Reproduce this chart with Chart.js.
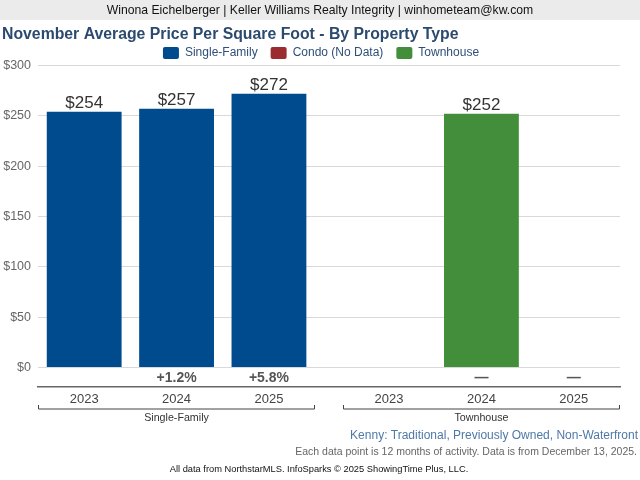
<!DOCTYPE html>
<html>
  <head>
    <script src="https://cdn.jsdelivr.net/npm/chart.js"></script>
    <style>
      html, body { margin: 0; padding: 0; background: #fff; }
      #wrap { width: 640px; height: 480px; }
    </style>
  </head>
  <body>
    <div id="wrap"><canvas id="ppsfChart" width="640" height="480"></canvas></div>

    <script>
      // chart data
      const groups = ['Single-Family', 'Townhouse'];
      const years = ['2023', '2024', '2025'];
      const singleFamily = [254, 257, 272];
      const townhouse = [null, 252, null];
      const condo = [];  // no data for this area
      const singleFamilyChange = ['', '+1.2%', '+5.8%'];
      const townhouseChange = ['', '—', '—'];
      const yTicks = [0, 50, 100, 150, 200, 250, 300];

      const headerText = 'Winona Eichelberger | Keller Williams Realty Integrity | winhometeam@kw.com';
      const titleText = 'November Average Price Per Square Foot - By Property Type';
      const areaText = 'Kenny: Traditional, Previously Owned, Non-Waterfront';
      const noteText = 'Each data point is 12 months of activity. Data is from December 13, 2025.';
      const sourceText = 'All data from NorthstarMLS. InfoSparks © 2025 ShowingTime Plus, LLC.';

      const FONT = 'Arial, "Liberation Sans", sans-serif';
      const GROUP_GAP = 0.3;   // extra space between groups, in slots

      // slot position of year i within group g
      function slotX(g, i) { return g * (years.length + GROUP_GAP) + i; }

      function toPoints(values, g) {
        return values
          .map((v, i) => (v == null ? null : { x: slotX(g, i), y: v }))
          .filter(p => p !== null);
      }

      const tickPositions = [];
      groups.forEach((name, g) => years.forEach((y, i) => tickPositions.push(slotX(g, i))));
      const changes = [singleFamilyChange, townhouseChange];

      const decorations = {
        id: 'decorations',
        beforeLayout(chart) {
          // tighten the gap under the legend
          const lg = chart.legend;
          if (lg && !lg._patched) {
            const fit = lg.fit;
            lg.fit = function () { fit.call(this); this.height -= 3.5; };
            lg._patched = true;
          }
        },
        afterLayout(chart) {
          // legend sits a little right of centre in the original
          chart.legend.left += 10;
          chart.legend.right += 10;
        },
        beforeDraw(chart) {
          const ctx = chart.ctx;
          ctx.save();
          ctx.fillStyle = '#ebebeb';
          ctx.fillRect(0, 0, chart.width, 20);
          ctx.fillStyle = '#111';
          ctx.font = '12.2px ' + FONT;
          ctx.textAlign = 'center';
          ctx.textBaseline = 'middle';
          ctx.fillText(headerText, 320, 10.5);

          ctx.fillStyle = '#2c4a6f';
          ctx.font = 'bold 15.8px ' + FONT;
          ctx.textAlign = 'left';
          ctx.fillText(titleText, 2, 34.5);
          ctx.restore();
        },
        afterDatasetsDraw(chart) {
          const ctx = chart.ctx;
          const xs = chart.scales.x;
          const ys = chart.scales.y;
          const area = chart.chartArea;
          ctx.save();

          // value labels above bars
          ctx.font = '17px ' + FONT;
          ctx.fillStyle = '#333';
          ctx.textAlign = 'center';
          ctx.textBaseline = 'alphabetic';
          chart.data.datasets.forEach((ds, di) => {
            chart.getDatasetMeta(di).data.forEach((bar, j) => {
              ctx.fillText('$' + ds.data[j].y, bar.x, bar.y - 4);
            });
          });

          // year-over-year change row
          const rowY = (ys.getPixelForValue(0) + area.bottom) / 2 + 1.5;
          ctx.font = 'bold 14px ' + FONT;
          ctx.fillStyle = '#555';
          ctx.textBaseline = 'middle';
          groups.forEach((name, g) => {
            changes[g].forEach((txt, i) => {
              if (txt) ctx.fillText(txt, xs.getPixelForValue(slotX(g, i)), rowY);
            });
          });

          // group brackets
          const by = area.bottom + 22.5;
          ctx.strokeStyle = '#444';
          ctx.lineWidth = 1;
          ctx.font = '10.7px ' + FONT;
          ctx.fillStyle = '#333';
          groups.forEach((name, g) => {
            const x0 = Math.round(xs.getPixelForValue(slotX(g, 0) - 0.5)) + 0.5;
            const x1 = Math.round(xs.getPixelForValue(slotX(g, years.length - 1) + 0.5)) - 0.5;
            ctx.beginPath();
            ctx.moveTo(x0, by - 4);
            ctx.lineTo(x0, by);
            ctx.lineTo(x1, by);
            ctx.lineTo(x1, by - 4);
            ctx.stroke();
            ctx.fillText(name, (x0 + x1) / 2, by + 9);
          });

          // footer notes
          ctx.textAlign = 'right';
          ctx.font = '12px ' + FONT;
          ctx.fillStyle = '#4e79a7';
          ctx.fillText(areaText, 638, 436);
          ctx.font = '10.5px ' + FONT;
          ctx.fillStyle = '#666';
          ctx.fillText(noteText, 637, 452);
          ctx.textAlign = 'center';
          ctx.font = '9.3px ' + FONT;
          ctx.fillStyle = '#111';
          ctx.fillText(sourceText, 319, 469);
          ctx.restore();
        }
      };

      new Chart(document.getElementById('ppsfChart'), {
        type: 'bar',
        data: {
          datasets: [
            { label: 'Single-Family', data: toPoints(singleFamily, 0), backgroundColor: '#004b8d' },
            { label: 'Condo (No Data)', data: condo, backgroundColor: '#9b2b2f' },
            { label: 'Townhouse', data: toPoints(townhouse, 1), backgroundColor: '#438e3a' }
          ]
        },
        options: {
          responsive: false,
          animation: false,
          devicePixelRatio: 1,
          grouped: false,
          barPercentage: 0.81,
          categoryPercentage: 1,
          layout: { padding: { top: 34, left: 2, right: 20, bottom: 63.5 } },
          plugins: {
            title: { display: false },
            tooltip: { enabled: false },
            legend: {
              position: 'top',
              labels: {
                boxWidth: 16,
                boxHeight: 12,
                padding: 13,
                color: '#2f4f7a',
                useBorderRadius: true,
                borderRadius: 2,
                font: { family: FONT, size: 12 }
              }
            }
          },
          scales: {
            x: {
              type: 'linear',
              offset: false,
              min: -0.5,
              max: slotX(groups.length - 1, years.length - 1) + 0.5,
              grid: { display: false, drawTicks: false },
              border: { display: true, color: '#666', width: 1.5 },
              afterBuildTicks: scale => { scale.ticks = tickPositions.map(v => ({ value: v })); },
              afterFit: scale => { scale.height = 30; },
              ticks: {
                autoSkip: false,
                maxRotation: 0,
                padding: 5,
                color: '#444',
                font: { family: FONT, size: 13 },
                callback: (value, index) => years[index % years.length]
              }
            },
            y: {
              min: -19,
              max: 300,
              grid: { color: '#d9d9d9', drawTicks: false },
              border: { display: false },
              afterBuildTicks: scale => { scale.ticks = yTicks.map(v => ({ value: v })); },
              afterFit: scale => { scale.width = 36; },
              ticks: {
                padding: 7,
                color: '#666',
                font: { family: FONT, size: 12.5 },
                callback: value => '$' + value
              }
            }
          }
        },
        plugins: [decorations]
      });
    </script>
  </body>
</html>
